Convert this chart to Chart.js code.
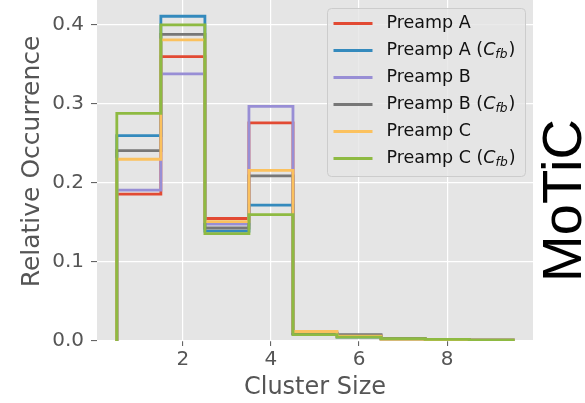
<!DOCTYPE html>
<html>
<head>
<meta charset="utf-8">
<script src="https://cdn.jsdelivr.net/npm/chart.js@4.4.1/dist/chart.umd.min.js"></script>
<style>
  html, body { margin: 0; padding: 0; background: #ffffff; }
  #wrap { position: relative; width: 585px; height: 403px; }
</style>
</head>
<body>
<div id="wrap"><canvas id="chart" width="585" height="403"></canvas></div>
<script>
// Cluster-size bins (bin centres) and their edges
const clusterSizes = [1, 2, 3, 4, 5, 6, 7, 8, 9];
const xTickValues = [2, 4, 6, 8];
const yTickValues = [0.0, 0.1, 0.2, 0.3, 0.4];

// Relative occurrence per cluster size
const preampA    = [0.186, 0.360, 0.155, 0.276, 0.010, 0.006, 0.003, 0.002, 0.001];
const preampAcfb = [0.260, 0.411, 0.139, 0.172, 0.009, 0.005, 0.002, 0.001, 0.001];
const preampB    = [0.191, 0.338, 0.148, 0.297, 0.010, 0.007, 0.003, 0.002, 0.001];
const preampBcfb = [0.241, 0.388, 0.143, 0.209, 0.009, 0.008, 0.003, 0.002, 0.001];
const preampC    = [0.230, 0.381, 0.151, 0.216, 0.012, 0.006, 0.002, 0.001, 0.001];
const preampCcfb = [0.288, 0.400, 0.136, 0.160, 0.008, 0.005, 0.003, 0.002, 0.001];

const seriesNames = ['Preamp A', 'Preamp A', 'Preamp B', 'Preamp B', 'Preamp C', 'Preamp C'];
const seriesFeedback = [false, true, false, true, false, true];
const seriesValues = [preampA, preampAcfb, preampB, preampBcfb, preampC, preampCcfb];
const seriesColors = ['#E24A33', '#348ABD', '#988ED5', '#777777', '#FBC15E', '#8EBA42'];

const FONT = "'DejaVu Sans', sans-serif";
const TICK_COLOR = '#555555';
const LINE_W = 2.8;

// Step outline of a histogram: rise at the first edge, one level per bin, drop at the last edge
function stepOutline(values) {
  const pts = [{ x: clusterSizes[0] - 0.5, y: 0 }];
  values.forEach((v, i) => pts.push({ x: clusterSizes[i] - 0.5, y: v }));
  const lastEdge = clusterSizes[clusterSizes.length - 1] + 0.5;
  pts.push({ x: lastEdge, y: values[values.length - 1] });
  pts.push({ x: lastEdge, y: 0 });
  return pts;
}

const datasets = seriesValues.map((vals, i) => ({
  label: seriesNames[i] + (seriesFeedback[i] ? ' (C_fb)' : ''),
  data: stepOutline(vals),
  stepped: 'before',
  borderColor: seriesColors[i],
  backgroundColor: seriesColors[i],
  borderWidth: LINE_W,
  borderJoinStyle: 'miter',
  pointRadius: 0,
  fill: false,
  order: seriesValues.length - 1 - i   // later series on top
}));

const dataMin = clusterSizes[0] - 0.5;
const dataMax = clusterSizes[clusterSizes.length - 1] + 0.5;
const xPad = (dataMax - dataMin) * 0.05;
const yTop = Math.max(...seriesValues.flat()) * 1.05;

const panelBackground = {
  id: 'panelBackground',
  beforeDraw(chart) {
    const { ctx, chartArea: a } = chart;
    ctx.save();
    ctx.fillStyle = '#E5E5E5';
    ctx.fillRect(a.left, a.top, a.right - a.left, a.bottom - a.top);
    ctx.restore();
  }
};

const stepLegend = {
  id: 'stepLegend',
  afterDatasetsDraw(chart) {
    const { ctx, chartArea: a } = chart;
    const boxW = 198, boxH = 168;
    const bx = a.right - 8 - boxW + 0.5, by = a.top + 8.5;
    ctx.save();
    ctx.beginPath();
    ctx.roundRect(bx, by, boxW, boxH, 4);
    ctx.fillStyle = 'rgba(229,229,229,0.8)';
    ctx.fill();
    ctx.strokeStyle = '#CCCCCC';
    ctx.lineWidth = 1;
    ctx.stroke();

    const fs = 17.5;
    seriesNames.forEach((name, i) => {
      const y = by + 15 + i * 27;
      ctx.beginPath();
      ctx.moveTo(bx + 6, y);
      ctx.lineTo(bx + 45, y);
      ctx.strokeStyle = seriesColors[i];
      ctx.lineWidth = LINE_W;
      ctx.stroke();

      ctx.fillStyle = '#111111';
      ctx.textBaseline = 'middle';
      ctx.textAlign = 'left';
      let x = bx + 59;
      const base = seriesFeedback[i] ? name + ' (' : name;
      ctx.font = fs + 'px ' + FONT;
      ctx.fillText(base, x, y);
      if (seriesFeedback[i]) {
        x += ctx.measureText(base).width;
        ctx.font = 'italic ' + fs + 'px ' + FONT;
        ctx.fillText('C', x, y);
        x += ctx.measureText('C').width;
        ctx.font = 'italic ' + (fs * 0.7) + 'px ' + FONT;
        ctx.fillText('fb', x, y + 4);
        x += ctx.measureText('fb').width + 1;
        ctx.font = fs + 'px ' + FONT;
        ctx.fillText(')', x, y);
      }
    });
    ctx.restore();
  }
};

const sideLabels = {
  id: 'sideLabels',
  afterDraw(chart) {
    const { ctx } = chart;
    ctx.save();
    // y-axis title
    ctx.translate(32, 161.5);
    ctx.rotate(-Math.PI / 2);
    ctx.font = '25px ' + FONT;
    ctx.fillStyle = TICK_COLOR;
    ctx.textAlign = 'center';
    ctx.textBaseline = 'middle';
    ctx.fillText('Relative Occurrence', 0, 0);
    ctx.restore();

    ctx.save();
    ctx.translate(581, 200.5);
    ctx.rotate(-Math.PI / 2);
    ctx.font = "56px 'Liberation Sans', Arial, sans-serif";
    ctx.fillStyle = '#000000';
    ctx.textAlign = 'center';
    ctx.textBaseline = 'alphabetic';
    ctx.fillText('MoTiC', 0, 0);
    ctx.restore();
  }
};

new Chart(document.getElementById('chart'), {
  type: 'line',
  data: { datasets },
  plugins: [panelBackground, stepLegend, sideLabels],
  options: {
    responsive: false,
    animation: false,
    devicePixelRatio: 1,
    layout: { padding: { left: 0, top: 0, right: 52, bottom: 0 } },
    plugins: { legend: { display: false }, tooltip: { enabled: false } },
    scales: {
      x: {
        type: 'linear',
        min: dataMin - xPad,
        max: dataMax + xPad,
        afterBuildTicks(scale) { scale.ticks = xTickValues.map(v => ({ value: v })); },
        afterFit(scale) { scale.height = 62; scale.paddingLeft = 0; scale.paddingRight = 0; },
        border: { display: false },
        grid: { color: '#FFFFFF', lineWidth: 1.2, tickColor: TICK_COLOR, tickLength: 5, tickWidth: 1 },
        ticks: { color: TICK_COLOR, font: { family: FONT, size: 20 }, padding: 2, maxRotation: 0,
                 callback: v => String(v) },
        title: { display: true, text: 'Cluster Size', color: TICK_COLOR,
                 font: { family: FONT, size: 24 }, padding: { top: 0, bottom: 1 } }
      },
      y: {
        type: 'linear',
        min: 0,
        max: yTop,
        afterBuildTicks(scale) { scale.ticks = yTickValues.map(v => ({ value: v })); },
        afterFit(scale) { scale.width = 97; scale.paddingTop = 0; scale.paddingBottom = 0; },
        border: { display: false },
        grid: { color: '#FFFFFF', lineWidth: 1.2, tickColor: TICK_COLOR, tickLength: 6, tickWidth: 1 },
        ticks: { color: TICK_COLOR, font: { family: FONT, size: 20 }, padding: 7,
                 callback: v => Number(v).toFixed(1) }
      }
    }
  }
});
</script>
</body>
</html>
